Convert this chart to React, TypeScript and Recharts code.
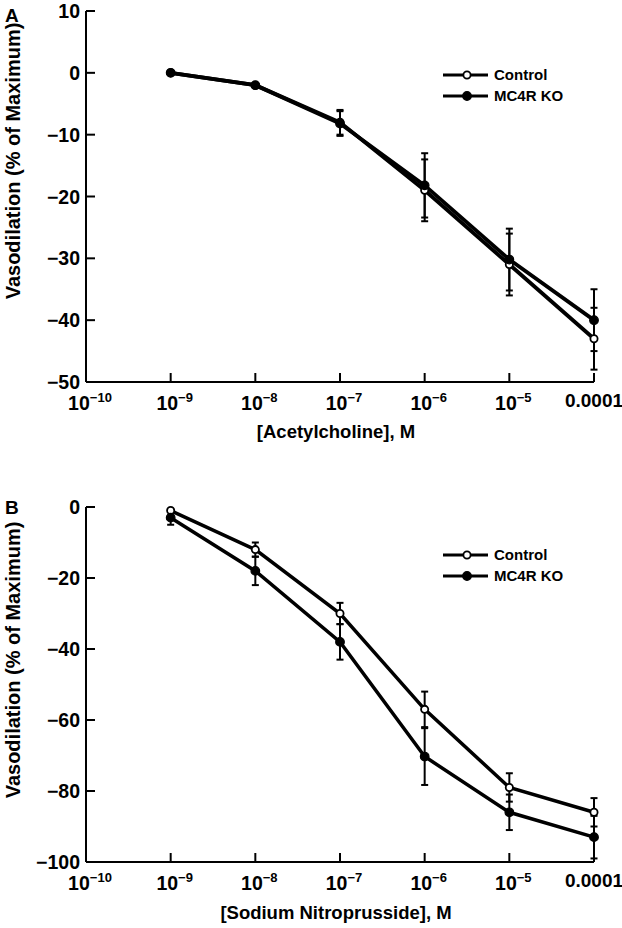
import React from 'react';
import { LineChart, Line, XAxis, YAxis, ErrorBar, Legend, Label } from 'recharts';

const FONT = '"Liberation Sans", Arial, Helvetica, sans-serif';

// log10 of molar concentration
const logConc = [-9, -8, -7, -6, -5, -4];
const xTicks = [-10, -9, -8, -7, -6, -5, -4];

// Panel A: Acetylcholine
const achControl = [0, -2, -8, -19, -31, -43];
const achControlErr = [0, 0, 2, 5, 5, 5];
const achKO = [0, -2, -8.2, -18.2, -30.2, -40];
const achKOErr = [0, 0, 2, 5.2, 5, 5];
const achYTicks = [10, 0, -10, -20, -30, -40, -50];

// Panel B: Sodium Nitroprusside
const snpControl = [-1, -12, -30, -57, -79, -86];
const snpControlErr = [0, 2, 3, 5, 4, 4];
const snpKO = [-3, -18, -38, -70.3, -86, -93];
const snpKOErr = [2, 4, 5, 8, 5, 6];
const snpYTicks = [0, -20, -40, -60, -80, -100];

const seriesNames = ['Control', 'MC4R KO'];

const achRows = logConc.map((x, i) => ({
  x,
  ctrl: achControl[i],
  ctrlErr: achControlErr[i],
  ko: achKO[i],
  koErr: achKOErr[i],
}));
const snpRows = logConc.map((x, i) => ({
  x,
  ctrl: snpControl[i],
  ctrlErr: snpControlErr[i],
  ko: snpKO[i],
  koErr: snpKOErr[i],
}));

const fmtY = (v: number) => (v < 0 ? '\u2212' + Math.abs(v) : String(v));

const XTick = (props: any) => {
  const { x, y, payload } = props;
  const v = payload.value as number;
  return (
    <g>
      {v !== -10 && <line x1={x} y1={y} x2={x} y2={y - 9} stroke="#000" strokeWidth={2} />}
      {v === -4 ? (
        <text x={x} y={y + 25} textAnchor="middle" fontFamily={FONT} fontWeight="bold" fontSize={19} fill="#000">
          0.0001
        </text>
      ) : (
        <text x={x + 4} y={y + 28} textAnchor="middle" fontFamily={FONT} fontWeight="bold" fontSize={19.5} fill="#000">
          10
          <tspan dy={-8} fontSize={13}>{'\u2212' + Math.abs(v)}</tspan>
        </text>
      )}
    </g>
  );
};

const YTick = (props: any) => {
  const { x, y, payload } = props;
  return (
    <g>
      <line x1={x} y1={y} x2={x + 9} y2={y} stroke="#000" strokeWidth={2} />
      <text x={x - 6} y={y} dy={7} textAnchor="end" fontFamily={FONT} fontWeight="bold" fontSize={19.5} fill="#000">
        {fmtY(payload.value)}
      </text>
    </g>
  );
};

const makeYTitle = (cy: number) => () => (
  <text
    x={20}
    y={cy}
    transform={`rotate(-90 20 ${cy})`}
    textAnchor="middle"
    fontFamily={FONT}
    fontWeight="bold"
    fontSize={20}
    fill="#000"
  >
    Vasodilation (% of Maximum)
  </text>
);

const makeXTitle = (text: string, y: number) => () => (
  <text x={336} y={y} textAnchor="middle" fontFamily={FONT} fontWeight="bold" fontSize={18.5} fill="#000">
    {text}
  </text>
);

const LegendBox = () => (
  <svg width={180} height={45} style={{ display: 'block' }}>
    {seriesNames.map((name, i) => {
      const cy = 11 + i * 21;
      return (
        <g key={name}>
          <line x1={3} y1={cy} x2={48} y2={cy} stroke="#000" strokeWidth={3} />
          <circle
            cx={27}
            cy={cy}
            r={i === 0 ? 3.6 : 4.3}
            fill={i === 0 ? '#fff' : '#000'}
            stroke="#000"
            strokeWidth={i === 0 ? 1.8 : 1.2}
          />
          <text x={54} y={cy + 5} fontFamily={FONT} fontWeight="bold" fontSize={15} fill="#000">
            {name}
          </text>
        </g>
      );
    })}
  </svg>
);

const openDot = { r: 3.6, fill: '#fff', stroke: '#000', strokeWidth: 1.8 };
const filledDot = { r: 4.3, fill: '#000', stroke: '#000', strokeWidth: 1.2 };

type PanelProps = {
  rows: any[];
  yDomain: [number, number];
  yTicks: number[];
  marginTop: number;
  xAxisHeight: number;
  xTitle: string;
  xTitleY: number;
  yTitleY: number;
  legendTop: number;
  lineWidth: number;
};

const Panel = (p: PanelProps) => (
  <LineChart
    width={622}
    height={464}
    data={p.rows}
    margin={{ top: p.marginTop, right: 28, left: 0, bottom: 0 }}
  >
    <XAxis
      dataKey="x"
      type="number"
      domain={[-10, -4]}
      ticks={xTicks}
      interval={0}
      height={p.xAxisHeight}
      tickSize={0}
      tickMargin={0}
      tick={<XTick />}
      axisLine={{ stroke: '#000', strokeWidth: 2 }}
      tickLine={false}
    >
      <Label content={makeXTitle(p.xTitle, p.xTitleY)} />
    </XAxis>
    <YAxis
      type="number"
      domain={p.yDomain}
      ticks={p.yTicks}
      interval={0}
      width={86}
      tickSize={0}
      tickMargin={0}
      tick={<YTick />}
      axisLine={{ stroke: '#000', strokeWidth: 2 }}
      tickLine={false}
    >
      <Label content={makeYTitle(p.yTitleY)} />
    </YAxis>
    <Legend
      layout="vertical"
      align="center"
      verticalAlign="middle"
      content={<LegendBox />}
      wrapperStyle={{ left: 440, top: p.legendTop, width: 180, height: 45 }}
    />
    <Line
      dataKey="ctrl"
      name={seriesNames[0]}
      stroke="#000"
      strokeWidth={p.lineWidth}
      dot={openDot}
      activeDot={false}
      isAnimationActive={false}
    >
      <ErrorBar dataKey="ctrlErr" direction="y" width={3.5} stroke="#000" strokeWidth={2} isAnimationActive={false} />
    </Line>
    <Line
      dataKey="ko"
      name={seriesNames[1]}
      stroke="#000"
      strokeWidth={p.lineWidth}
      dot={filledDot}
      activeDot={false}
      isAnimationActive={false}
    >
      <ErrorBar dataKey="koErr" direction="y" width={3.5} stroke="#000" strokeWidth={2} isAnimationActive={false} />
    </Line>
  </LineChart>
);

export default function App() {
  return (
    <div style={{ position: 'absolute', left: 0, top: 0, width: 622, height: 928, background: '#fff' }}>
      <div style={{ position: 'absolute', left: 0, top: 0 }}>
        <Panel
          rows={achRows}
          yDomain={[-50, 10]}
          yTicks={achYTicks}
          marginTop={11}
          xAxisHeight={82}
          xTitle="[Acetylcholine], M"
          xTitleY={438}
          yTitleY={161}
          legendTop={64}
          lineWidth={3.8}
        />
      </div>
      <div style={{ position: 'absolute', left: 0, top: 464 }}>
        <Panel
          rows={snpRows}
          yDomain={[-100, 0]}
          yTicks={snpYTicks}
          marginTop={43}
          xAxisHeight={66}
          xTitle="[Sodium Nitroprusside], M"
          xTitleY={455}
          yTitleY={196}
          legendTop={80}
          lineWidth={3.5}
        />
      </div>
      <svg
        width={622}
        height={928}
        style={{ position: 'absolute', left: 0, top: 0, pointerEvents: 'none' }}
      >
        <text x={5} y={22} fontFamily={FONT} fontWeight="bold" fontSize={19} fill="#000">A</text>
        <text x={5} y={514} fontFamily={FONT} fontWeight="bold" fontSize={19} fill="#000">B</text>
      </svg>
    </div>
  );
}
